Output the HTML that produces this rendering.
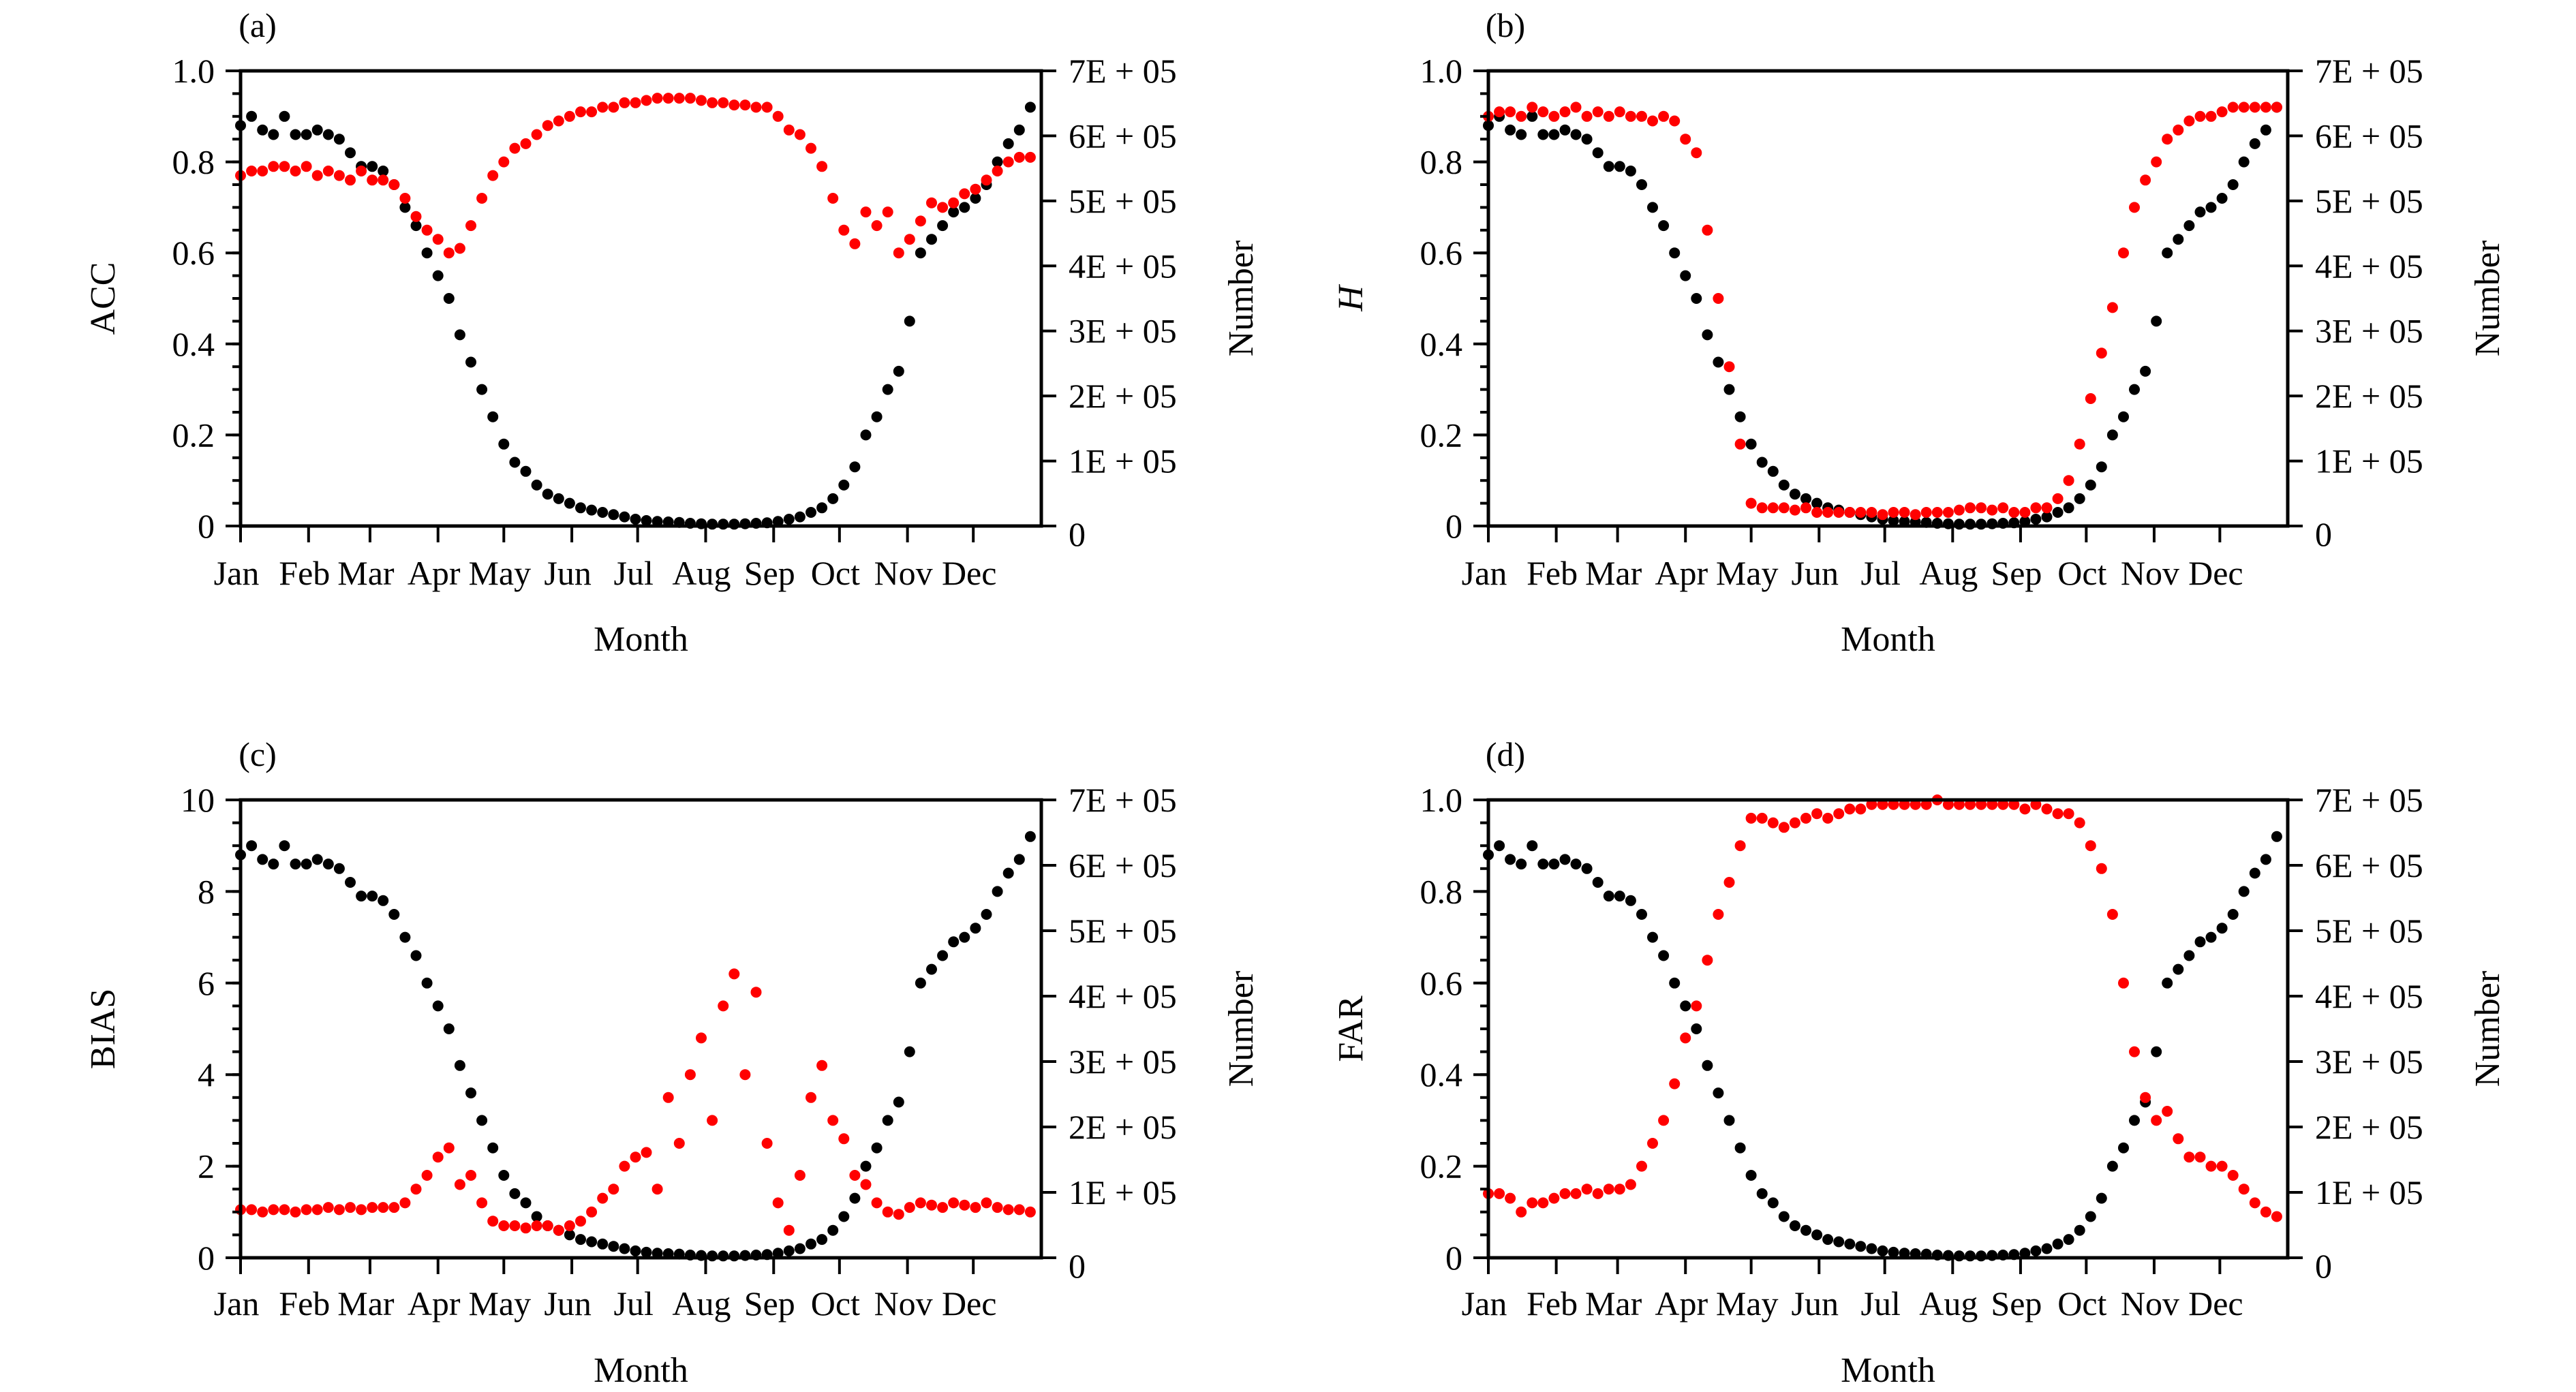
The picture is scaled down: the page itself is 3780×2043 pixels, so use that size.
<!DOCTYPE html>
<html><head><meta charset="utf-8">
<style>
html,body{margin:0;padding:0;background:#fff;}
svg{display:block;}
text{font-family:"Liberation Serif",serif;fill:#000;}
</style></head>
<body>
<svg id="fig" width="3780" height="2043" viewBox="0 0 3780 2043" xmlns="http://www.w3.org/2000/svg"></svg>
<script>
// Shared data: sample day-of-year (every 5 days)
const days = [0,5,10,15,20,25,30,35,40,45,50,55,60,65,70,75,80,85,90,95,100,105,110,115,120,125,130,135,140,145,150,155,160,165,170,175,180,185,190,195,200,205,210,215,220,225,230,235,240,245,250,255,260,265,270,275,280,285,290,295,300,305,310,315,320,325,330,335,340,345,350,355,360];
// Number of samples (units of 1E+05)
const numberE5 = [6.16,6.3,6.09,6.02,6.3,6.02,6.02,6.09,6.02,5.95,5.74,5.53,5.53,5.46,5.25,4.9,4.62,4.2,3.85,3.5,2.94,2.52,2.1,1.68,1.26,0.98,0.84,0.63,0.49,0.42,0.35,0.28,0.245,0.21,0.175,0.14,0.105,0.084,0.07,0.063,0.056,0.042,0.035,0.028,0.028,0.028,0.035,0.042,0.049,0.07,0.105,0.14,0.21,0.28,0.42,0.63,0.91,1.4,1.68,2.1,2.38,3.15,4.2,4.41,4.62,4.83,4.9,5.04,5.25,5.6,5.88,6.09,6.44];
const accValues = [0.77,0.78,0.78,0.79,0.79,0.78,0.79,0.77,0.78,0.77,0.76,0.78,0.76,0.76,0.75,0.72,0.68,0.65,0.63,0.6,0.61,0.66,0.72,0.77,0.8,0.83,0.84,0.86,0.88,0.89,0.9,0.91,0.91,0.92,0.92,0.93,0.93,0.935,0.94,0.94,0.94,0.94,0.935,0.93,0.93,0.925,0.925,0.92,0.92,0.9,0.87,0.86,0.83,0.79,0.72,0.65,0.62,0.69,0.66,0.69,0.6,0.63,0.67,0.71,0.7,0.71,0.73,0.74,0.76,0.78,0.8,0.81,0.81];
const hValues = [0.9,0.91,0.91,0.9,0.92,0.91,0.9,0.91,0.92,0.9,0.91,0.9,0.91,0.9,0.9,0.89,0.9,0.89,0.85,0.82,0.65,0.5,0.35,0.18,0.05,0.04,0.04,0.04,0.035,0.04,0.03,0.03,0.03,0.03,0.03,0.03,0.025,0.03,0.03,0.025,0.03,0.03,0.03,0.035,0.04,0.04,0.035,0.04,0.03,0.03,0.04,0.04,0.06,0.1,0.18,0.28,0.38,0.48,0.6,0.7,0.76,0.8,0.85,0.87,0.89,0.9,0.9,0.91,0.92,0.92,0.92,0.92,0.92];
const biasValues = [1.05,1.05,1.0,1.05,1.05,1.0,1.05,1.05,1.1,1.05,1.1,1.05,1.1,1.1,1.1,1.2,1.5,1.8,2.2,2.4,1.6,1.8,1.2,0.8,0.7,0.7,0.65,0.7,0.7,0.6,0.7,0.8,1.0,1.3,1.5,2.0,2.2,2.3,1.5,3.5,2.5,4.0,4.8,3.0,5.5,6.2,4.0,5.8,2.5,1.2,0.6,1.8,3.5,4.2,3.0,2.6,1.8,1.6,1.2,1.0,0.95,1.1,1.2,1.15,1.1,1.2,1.15,1.1,1.2,1.1,1.05,1.05,1.0];
const farValues = [0.14,0.14,0.13,0.1,0.12,0.12,0.13,0.14,0.14,0.15,0.14,0.15,0.15,0.16,0.2,0.25,0.3,0.38,0.48,0.55,0.65,0.75,0.82,0.9,0.96,0.96,0.95,0.94,0.95,0.96,0.97,0.96,0.97,0.98,0.98,0.99,0.99,0.99,0.99,0.99,0.99,1.0,0.99,0.99,0.99,0.99,0.99,0.99,0.99,0.98,0.99,0.98,0.97,0.97,0.95,0.9,0.85,0.75,0.6,0.45,0.35,0.3,0.32,0.26,0.22,0.22,0.2,0.2,0.18,0.15,0.12,0.1,0.09];
const monthNames = ["Jan","Feb","Mar","Apr","May","Jun","Jul","Aug","Sep","Oct","Nov","Dec"];
const monthStarts = [0,31,59,90,120,151,181,212,243,273,304,334];
const rightTicks = [0,1,2,3,4,5,6,7];
const rightTickLabels = ["0","1E + 05","2E + 05","3E + 05","4E + 05","5E + 05","6E + 05","7E + 05"];
const ticksUnit = [0,0.2,0.4,0.6,0.8,1.0];
const ticksUnitLabels = ["0","0.2","0.4","0.6","0.8","1.0"];
const ticksBias = [0,2,4,6,8,10];
const ticksBiasLabels = ["0","2","4","6","8","10"];

const NS = "http://www.w3.org/2000/svg";
const svg = document.getElementById('fig');
function mk(tag, attrs, parent){
  const e = document.createElementNS(NS, tag);
  for (const k in attrs) e.setAttribute(k, attrs[k]);
  (parent||svg).appendChild(e);
  return e;
}
function txt(s, attrs, parent){ const t = mk('text', attrs, parent); t.textContent = s; return t; }

const panels = [
  {id:'a', x0:353, x1:1528, y0:104, y1:772, vals:accValues, ymax:1, ticks:ticksUnit, tl:ticksUnitLabels, minor:0.05, title:'ACC', italic:false, monthY:858, titleY:955},
  {id:'b', x0:2184, x1:3357, y0:104, y1:772, vals:hValues, ymax:1, ticks:ticksUnit, tl:ticksUnitLabels, minor:0.05, title:'H', italic:true, monthY:858, titleY:955},
  {id:'c', x0:353, x1:1528, y0:1174, y1:1846, vals:biasValues, ymax:10, ticks:ticksBias, tl:ticksBiasLabels, minor:0.5, title:'BIAS', italic:false, monthY:1930, titleY:2028},
  {id:'d', x0:2184, x1:3357, y0:1174, y1:1846, vals:farValues, ymax:1, ticks:ticksUnit, tl:ticksUnitLabels, minor:0.05, title:'FAR', italic:false, monthY:1930, titleY:2028}
];

panels.forEach(p => {
  const g = mk('g', {});
  
  
  const xs = d => p.x0 + d/365*(p.x1-p.x0);
  const yl = v => p.y1 - v/p.ymax*(p.y1-p.y0);
  const yr = v => p.y1 - v/7*(p.y1-p.y0);

  const lab = txt('('+p.id+')', {x:p.x0+25, y:p.y0-50, 'font-size':50, 'text-anchor':'middle'}, g);
  
  

  const gb = mk('g', {fill:'#000'}, g);
  
  
  days.forEach((d,i) => {
    const c = mk('circle', {cx:xs(d).toFixed(1), cy:yr(numberE5[i]).toFixed(1), r:8}, gb);
    
    
  });
  const gr = mk('g', {fill:'#f00'}, g);
  
  
  days.forEach((d,i) => {
    const c = mk('circle', {cx:xs(d).toFixed(1), cy:yl(p.vals[i]).toFixed(1), r:8}, gr);
    
    
  });

  const fr = mk('rect', {x:p.x0, y:p.y0, width:p.x1-p.x0, height:p.y1-p.y0, fill:'none', stroke:'#000', 'stroke-width':5}, g);
  
  

  const gl = mk('g', {}, g);
  
  
  for (let v = 0; v <= p.ymax + 1e-9; v += p.minor) {
    const y = yl(v);
    mk('line', {x1:p.x0-12, x2:p.x0, y1:y, y2:y, stroke:'#000', 'stroke-width':4}, gl);
  }
  p.ticks.forEach((v,i) => {
    const y = yl(v);
    mk('line', {x1:p.x0-22, x2:p.x0, y1:y, y2:y, stroke:'#000', 'stroke-width':4}, gl);
    const t = txt(p.tl[i], {x:p.x0-38, y:y+17, 'font-size':50, 'text-anchor':'end'}, gl);
    
    
  });
  const yt = txt(p.title, {x:0, y:0, 'font-size':52, 'text-anchor':'middle', 'font-style': p.italic?'italic':'normal', transform:`translate(${p.x0-185},${(p.y0+p.y1)/2}) rotate(-90)`}, gl);
  
  

  const gra = mk('g', {}, g);
  
  
  rightTicks.forEach((v,i) => {
    const y = yr(v);
    mk('line', {x1:p.x1, x2:p.x1+22, y1:y, y2:y, stroke:'#000', 'stroke-width':4}, gra);
    const t = txt(rightTickLabels[i], {x:p.x1+40, y:y+17+(v===0?12:0), 'font-size':50}, gra);
    
    
  });
  const rt = txt('Number', {x:0, y:0, 'font-size':52, 'text-anchor':'middle', transform:`translate(${p.x1+310},${(p.y0+p.y1)/2}) rotate(-90)`}, gra);
  
  

  const gx = mk('g', {}, g);
  
  
  monthStarts.forEach((d,i) => {
    const x = xs(d);
    mk('line', {x1:x, x2:x, y1:p.y1, y2:p.y1+24, stroke:'#000', 'stroke-width':4}, gx);
    const t = txt(monthNames[i], {x:x-6, y:p.monthY, 'font-size':50, 'text-anchor':'middle'}, gx);
    
    
  });
  const xt = txt('Month', {x:(p.x0+p.x1)/2, y:p.titleY, 'font-size':52, 'text-anchor':'middle'}, gx);
  
  
});
</script>
</body></html>
